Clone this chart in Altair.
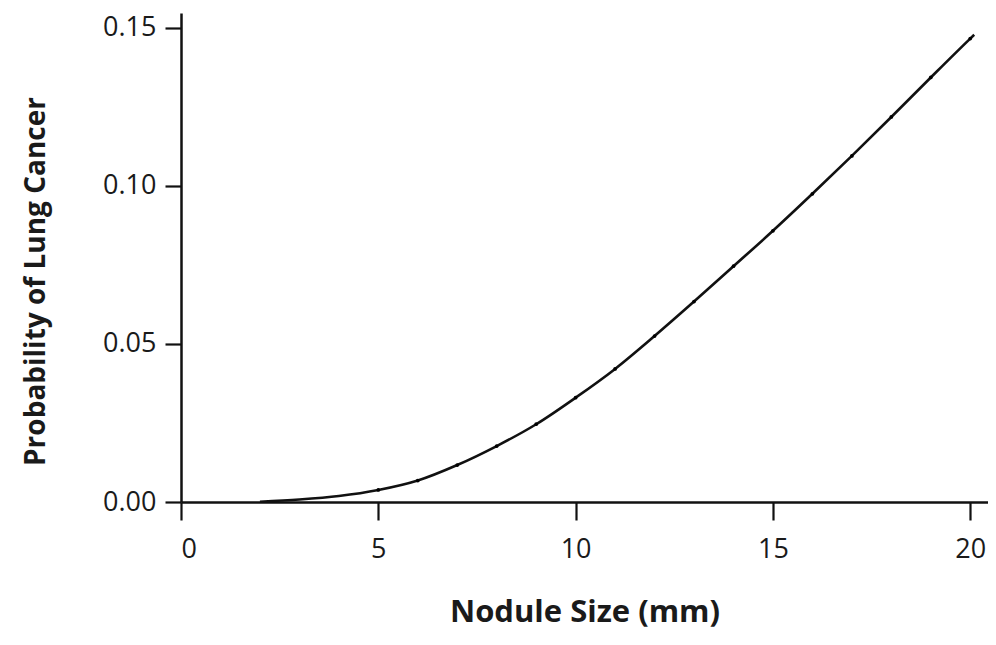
import altair as alt
import pandas as pd

nodule_size = [2, 3, 4, 5, 6, 7, 8, 9, 10, 11, 12, 13, 14, 15, 16, 17, 18, 19, 20, 20.1]
probability = [0.0001, 0.0008, 0.0019, 0.0038, 0.0068, 0.0117, 0.0177, 0.0246, 0.0330, 0.0421,
               0.0525, 0.0634, 0.0746, 0.0858, 0.0975, 0.1095, 0.1218, 0.1343, 0.1466, 0.1478]

df = pd.DataFrame({"size": nodule_size, "prob": probability})
dots = df[(df["size"] >= 5) & (df["size"] <= 20) & (df["size"] == df["size"].round())]

FONT = "Open Sans"

x = alt.X("size:Q",
          scale=alt.Scale(domain=[0, 20.45], nice=False, zero=False),
          axis=alt.Axis(title="Nodule Size (mm)", values=[0, 5, 10, 15, 20], format="d",
                        tickSize=18, labelPadding=16, titlePadding=35, titleFontSize=31, grid=False))
y = alt.Y("prob:Q",
          scale=alt.Scale(domain=[0, 0.1547], nice=False),
          axis=alt.Axis(title="Probability of Lung Cancer", values=[0, 0.05, 0.10, 0.15], format=".2f",
                        tickSize=16, labelPadding=9, titlePadding=52, titleFontSize=28,
                        titleY=268, grid=False))

line = alt.Chart(df).mark_line(color="#111111", strokeWidth=2.6, interpolate="monotone").encode(x=x, y=y)
pts = alt.Chart(dots).mark_point(filled=True, color="#000000", size=14, opacity=1).encode(x=x, y=y)

chart = (line + pts).properties(
    width=807, height=489,
    autosize=alt.AutoSizeParams(type="none"),
    padding={"left": 173, "top": 5, "right": 0, "bottom": 135},
    background="white",
).configure_view(stroke=None).configure_axis(
    domainColor="#111111", domainWidth=2.5, tickColor="#111111", tickWidth=2.2,
    labelFont=FONT, labelFontSize=27, labelColor="#1a1a1a",
    titleFont=FONT, titleFontWeight="bold", titleColor="#1a1a1a",
)

chart.save("out.html", embed_options={"renderer": "svg", "actions": False})
